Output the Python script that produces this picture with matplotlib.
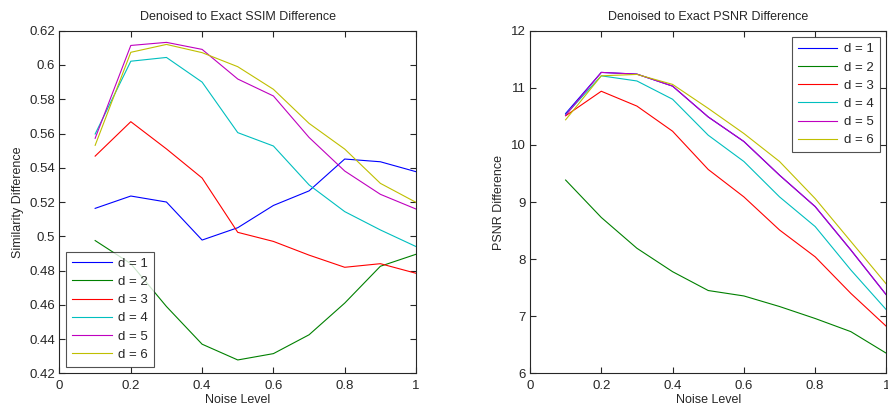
import numpy as np
import matplotlib
matplotlib.use("Agg")
import matplotlib.pyplot as plt
from matplotlib.ticker import FuncFormatter

plt.rcParams['font.family'] = ['Liberation Sans', 'DejaVu Sans']

noise = [0.1, 0.2, 0.3, 0.4, 0.5, 0.6, 0.7, 0.8, 0.9, 1.0]
labels = ['d = 1', 'd = 2', 'd = 3', 'd = 4', 'd = 5', 'd = 6']

ssim_d1 = [0.5163, 0.5235, 0.5200, 0.4978, 0.5050, 0.5180, 0.5265, 0.5451, 0.5435, 0.5377]
ssim_d2 = [0.4975, 0.4840, 0.4590, 0.4370, 0.4278, 0.4315, 0.4425, 0.4610, 0.4825, 0.4895]
ssim_d3 = [0.5468, 0.5669, 0.5510, 0.5340, 0.5023, 0.4970, 0.4890, 0.4819, 0.4840, 0.4784]
ssim_d4 = [0.5597, 0.6022, 0.6044, 0.5900, 0.5605, 0.5527, 0.5300, 0.5144, 0.5037, 0.4940]
ssim_d5 = [0.5572, 0.6114, 0.6132, 0.6091, 0.5918, 0.5819, 0.5577, 0.5381, 0.5245, 0.5159]
ssim_d6 = [0.5531, 0.6074, 0.6120, 0.6072, 0.5990, 0.5858, 0.5659, 0.5509, 0.5309, 0.5198]

psnr_d1 = [10.55, 11.27, 11.24, 11.03, 10.49, 10.06, 9.47, 8.92, 8.16, 7.37]
psnr_d2 = [9.385, 8.73, 8.19, 7.78, 7.45, 7.355, 7.17, 6.96, 6.73, 6.35]
psnr_d3 = [10.51, 10.94, 10.68, 10.24, 9.57, 9.09, 8.51, 8.04, 7.40, 6.82]
psnr_d4 = [10.53, 11.21, 11.12, 10.80, 10.17, 9.71, 9.09, 8.57, 7.81, 7.11]
psnr_d5 = [10.52, 11.27, 11.24, 11.03, 10.49, 10.06, 9.47, 8.92, 8.16, 7.37]
psnr_d6 = [10.44, 11.21, 11.235, 11.06, 10.64, 10.20, 9.71, 9.06, 8.31, 7.56]

colors = ['#0000ff', '#008000', '#ff0000', '#00bfbf', '#bf00bf', '#bfbf00']

fig = plt.figure(figsize=(8.88, 4.08), dpi=100)
ax1 = fig.add_axes([0.067, 0.085, 0.4015, 0.8397])
ax2 = fig.add_axes([0.5968, 0.085, 0.4015, 0.8397])


def g_fmt(v, pos):
    return '%g' % round(v, 6)


def style(ax, title, ylabel, ylim, yticks):
    ax.set_xlim(0, 1)
    ax.set_ylim(*ylim)
    ax.set_xticks(np.arange(0, 1.01, 0.2))
    ax.set_yticks(yticks)
    ax.xaxis.set_major_formatter(FuncFormatter(g_fmt))
    ax.yaxis.set_major_formatter(FuncFormatter(g_fmt))
    ax.tick_params(direction='in', length=4, width=0.8, labelsize=9.5,
                   top=True, right=True, colors='#262626')
    ax.tick_params(axis='x', pad=5)
    ax.tick_params(axis='y', pad=3)
    for s in ax.spines.values():
        s.set_linewidth(0.8)
        s.set_color('#262626')
    ax.set_title(title, fontsize=9, color='#262626', pad=8)
    ax.set_xlabel('Noise Level', fontsize=9, color='#262626', labelpad=1)
    ax.set_ylabel(ylabel, fontsize=9, color='#262626', labelpad=4)


ssim = [ssim_d1, ssim_d2, ssim_d3, ssim_d4, ssim_d5, ssim_d6]
psnr = [psnr_d1, psnr_d2, psnr_d3, psnr_d4, psnr_d5, psnr_d6]

for vals, c, lab in zip(ssim, colors, labels):
    ax1.plot(noise, vals, color=c, lw=0.8, label=lab)
for vals, c, lab in zip(psnr, colors, labels):
    ax2.plot(noise, vals, color=c, lw=0.8, label=lab)

style(ax1, 'Denoised to Exact SSIM Difference', 'Similarity Difference',
      (0.42, 0.62), np.arange(0.42, 0.6201, 0.02))
style(ax2, 'Denoised to Exact PSNR Difference', 'PSNR Difference',
      (6, 12), np.arange(6, 12.01, 1))

for ax, loc in ((ax1, 'lower left'), (ax2, 'upper right')):
    leg = ax.legend(loc=loc, fontsize=9.5, frameon=True, fancybox=False,
                    borderpad=0.45, labelspacing=0.45, handlelength=3.0,
                    handletextpad=0.5, borderaxespad=0.5)
    leg.get_frame().set_edgecolor('#262626')
    leg.get_frame().set_linewidth(0.8)
    for t in leg.get_texts():
        t.set_color('#262626')

fig.savefig('out.png', dpi=100)
